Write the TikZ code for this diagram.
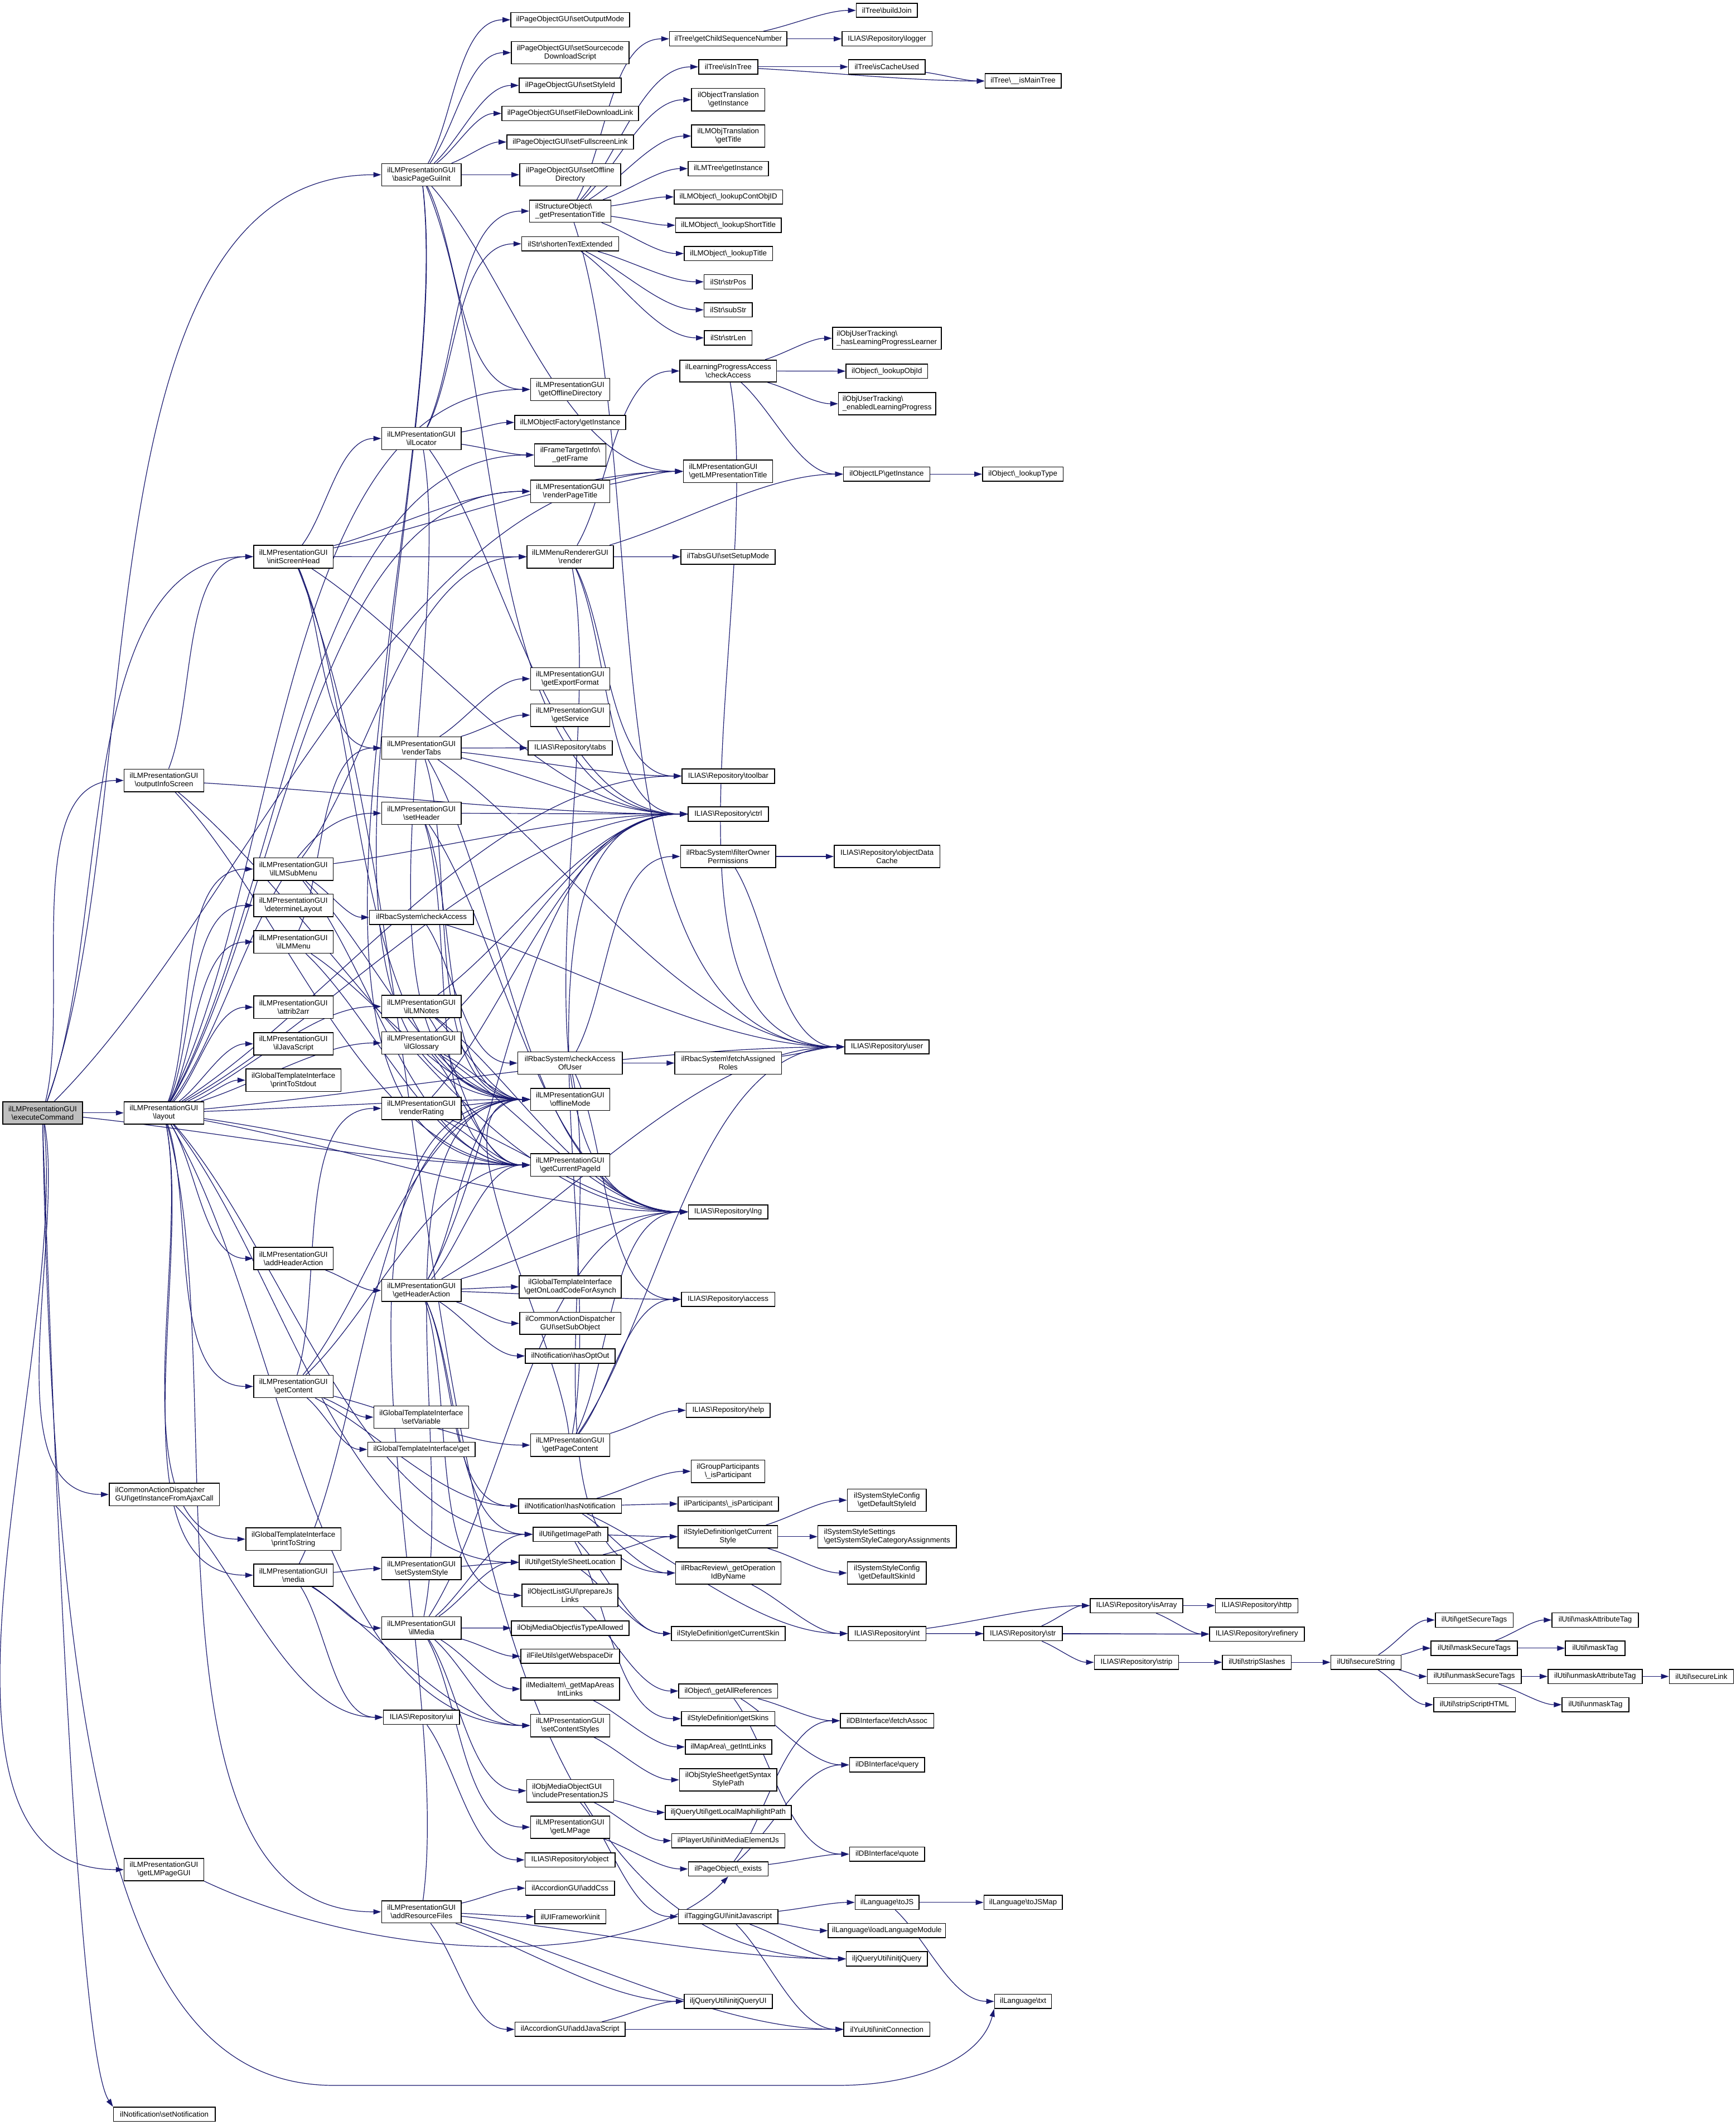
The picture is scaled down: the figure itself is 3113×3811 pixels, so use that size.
\documentclass[tikz,border=0pt]{standalone}
\usepackage{fontspec}
\setmainfont{Liberation Sans}
\usetikzlibrary{arrows.meta,calc}
\definecolor{edgec}{HTML}{191970}
\newcommand\bs{\textbackslash}
\pgfdeclarelayer{back}
\pgfdeclarelayer{bg}
\pgfsetlayers{back,bg,main}
\tikzset{
  box/.style={draw=black,fill=white,line width=0.4pt,inner sep=0pt,align=center,
    font=\fontsize{3.325pt}{3.75pt}\selectfont},
  e/.style={draw=edgec,line width=0.3pt,-{Triangle[length=3.5pt,width=2.3pt]},looseness=0.8}
}
\newcommand\nb[7][]{%
  \pgfmathsetmacro\nbX{(#3+#5)/2}\pgfmathsetmacro\nbY{(#4+#6)/2}%
  \pgfmathsetmacro\nbW{(#5-#3)*0.25}\pgfmathsetmacro\nbH{(#6-#4)*0.25}%
  \node[box,#1,minimum width=\nbW pt,minimum height=\nbH pt] (#2) at (\nbX,\nbY) {#7};}
\newcommand\ed[2]{\draw[e] let \p1=($(#2.west)-(#1.center)$), \n1={atan2(\y1,\x1)} in (#1) to[out=\n1,in=180] (#2);}
\newcommand\eds[2]{\foreach \tg in {#2}{\ed{#1}{\tg}}}
\begin{document}
\begin{tikzpicture}[x=0.25pt,y=-0.25pt]
\begin{pgfonlayer}{back}
\fill[white] (0,0) rectangle (3113,3811);
\end{pgfonlayer}
\useasboundingbox (0,0) rectangle (3113,3811);
% column 0-1
\nb[fill=gray!50]{E}{5.1}{1975.7}{148}{2016}{ilLMPresentationGUI\\\bs executeCommand}
\nb{oIS}{222.6}{1379.3}{365.4}{1420.1}{ilLMPresentationGUI\\\bs outputInfoScreen}
\nb{lay}{222.6}{1975.7}{365.4}{2016}{ilLMPresentationGUI\\\bs layout}
\nb[align=left]{aj}{195.8}{2660}{393.5}{2700.3}{ilCommonActionDispatcher\\GUI\bs getInstanceFromAjaxCall}
\nb{glpg}{222.6}{3333}{365.4}{3372.9}{ilLMPresentationGUI\\\bs getLMPageGUI}
\nb{sn}{203.4}{3779}{385.8}{3804.6}{ilNotification\bs setNotification}
% column 2
\nb{ish}{454.7}{977.9}{597.6}{1018.7}{ilLMPresentationGUI\\\bs initScreenHead}
\nb{sub}{454.7}{1538.4}{597.6}{1578.7}{ilLMPresentationGUI\\\bs ilLMSubMenu}
\nb{dl}{454.7}{1603.6}{597.6}{1643.9}{ilLMPresentationGUI\\\bs determineLayout}
\nb{menu}{454.7}{1669.2}{597.6}{1709.5}{ilLMPresentationGUI\\\bs ilLMMenu}
\nb{a2a}{454.7}{1786.1}{597.6}{1826.4}{ilLMPresentationGUI\\\bs attrib2arr}
\nb{js}{454.7}{1851.8}{597.6}{1892.1}{ilLMPresentationGUI\\\bs ilJavaScript}
\nb{pso}{440.7}{1917}{611.6}{1957.3}{ilGlobalTemplateInterface\\\bs printToStdout}
\nb{aha}{454.7}{2236.8}{597.6}{2277.1}{ilLMPresentationGUI\\\bs addHeaderAction}
\nb{gc}{454.7}{2466.5}{597.6}{2506.3}{ilLMPresentationGUI\\\bs getContent}
\nb{pts}{440.7}{2740.1}{611.6}{2780.4}{ilGlobalTemplateInterface\\\bs printToString}
\nb{med}{454.7}{2804.8}{597.6}{2845.1}{ilLMPresentationGUI\\\bs media}
% column 3
\nb{bpg}{684.3}{293.5}{827.2}{333.3}{ilLMPresentationGUI\\\bs basicPageGuiInit}
\nb{loc}{684.3}{766.5}{827.2}{806.3}{ilLMPresentationGUI\\\bs ilLocator}
\nb{rt}{684.3}{1321.6}{827.2}{1361.4}{ilLMPresentationGUI\\\bs renderTabs}
\nb{sh}{684.3}{1438.5}{827.2}{1478.3}{ilLMPresentationGUI\\\bs setHeader}
\nb{rca}{662.6}{1632.4}{848.9}{1657.8}{ilRbacSystem\bs checkAccess}
\nb{notes}{684.3}{1785.1}{827.2}{1825}{ilLMPresentationGUI\\\bs ilLMNotes}
\nb{glo}{684.3}{1850.3}{827.2}{1890.6}{ilLMPresentationGUI\\\bs ilGlossary}
\nb{rr}{684.3}{1967.7}{827.2}{2008}{ilLMPresentationGUI\\\bs renderRating}
\nb{gha}{684.3}{2294.4}{827.2}{2334.2}{ilLMPresentationGUI\\\bs getHeaderAction}
\nb{sv}{670.3}{2521.3}{840.6}{2561.6}{ilGlobalTemplateInterface\\\bs setVariable}
\nb{tget}{659.4}{2586.4}{852}{2612.3}{ilGlobalTemplateInterface\bs get}
\nb{sss}{684.3}{2792.9}{827.2}{2833.2}{ilLMPresentationGUI\\\bs setSystemStyle}
\nb{ilm}{684.3}{2899.3}{827.2}{2940.1}{ilLMPresentationGUI\\\bs ilMedia}
\nb{ui}{687.5}{3067}{824}{3092.6}{ILIAS\bs Repository\bs ui}
\nb{arf}{684.3}{3408.8}{827.2}{3448.6}{ilLMPresentationGUI\\\bs addResourceFiles}
% column 4
\nb{som}{916}{22.4}{1129}{48.7}{ilPageObjectGUI\bs setOutputMode}
\nb{sdl}{917}{74.6}{1128}{114.4}{ilPageObjectGUI\bs setSourcecode\\DownloadScript}
\nb{ssi}{931}{140.3}{1114}{166.1}{ilPageObjectGUI\bs setStyleId}
\nb{sfd}{900}{190.5}{1145}{216.4}{ilPageObjectGUI\bs setFileDownloadLink}
\nb{sfl}{909}{241.8}{1136}{267.6}{ilPageObjectGUI\bs setFullscreenLink}
\nb{sod}{932}{293.5}{1113}{333.3}{ilPageObjectGUI\bs setOffline\\Directory}
\nb[align=left]{gpt}{949.6}{358.7}{1095.4}{398.5}{ilStructureObject\bs\\\_getPresentationTitle}
\nb{ste}{935.6}{424.3}{1109.4}{450.2}{ilStr\bs shortenTextExtended}
\nb{god}{951.3}{678.5}{1093.5}{718.3}{ilLMPresentationGUI\\\bs getOfflineDirectory}
\nb{lof}{922.8}{744.7}{1122}{770.6}{ilLMObjectFactory\bs getInstance}
\nb{ftf}{958.3}{795.8}{1086.5}{836.1}{ilFrameTargetInfo\bs\\\_getFrame}
\nb{rpt}{951.3}{861}{1093.5}{901.3}{ilLMPresentationGUI\\\bs renderPageTitle}
\nb{mrr}{945.2}{978.4}{1099.9}{1018.7}{ilLMMenuRendererGUI\\\bs render}
\nb{gef}{951.3}{1197.3}{1093.5}{1237.5}{ilLMPresentationGUI\\\bs getExportFormat}
\nb{gs}{951.3}{1262.4}{1093.5}{1302.7}{ilLMPresentationGUI\\\bs getService}
\nb{tabs}{947}{1328.6}{1098}{1354}{ILIAS\bs Repository\bs tabs}
\nb{caou}{928.6}{1886.6}{1115.8}{1926.4}{ilRbacSystem\bs checkAccess\\OfUser}
\nb{om}{951.3}{1951.8}{1093.5}{1991.6}{ilLMPresentationGUI\\\bs offlineMode}
\nb{gcp}{951.3}{2069.2}{1093.5}{2109.5}{ilLMPresentationGUI\\\bs getCurrentPageId}
\nb{gol}{931.1}{2288}{1113.9}{2327.8}{ilGlobalTemplateInterface\\\bs getOnLoadCodeForAsynch}
\nb{sso}{931.8}{2353.6}{1113.3}{2392.9}{ilCommonActionDispatcher\\GUI\bs setSubObject}
\nb{hoo}{942}{2418.8}{1103}{2444.7}{ilNotification\bs hasOptOut}
\nb{gpc}{951.3}{2571.5}{1093.5}{2611.8}{ilLMPresentationGUI\\\bs getPageContent}
\nb{hn}{929.8}{2687.9}{1114.5}{2713.8}{ilNotification\bs hasNotification}
\nb{gip}{955.7}{2738.7}{1089.7}{2764.5}{ilUtil\bs getImagePath}
\nb{gssl}{931.1}{2788.9}{1113.9}{2814.8}{ilUtil\bs getStyleSheetLocation}
\nb{pjl}{936.2}{2841.1}{1108.2}{2881.4}{ilObjectListGUI\bs prepareJs\\Links}
\nb{ita}{917.1}{2906.8}{1127.9}{2932.7}{ilObjMediaObject\bs isTypeAllowed}
\nb{gwd}{933.7}{2957.5}{1110.7}{2982.9}{ilFileUtils\bs getWebspaceDir}
\nb{gma}{933.7}{3008.8}{1110.7}{3049}{ilMediaItem\bs\_getMapAreas\\IntLinks}
\nb{scs}{951.3}{3074.4}{1093.5}{3114.7}{ilLMPresentationGUI\\\bs setContentStyles}
\nb[align=left]{ipj}{944.5}{3191.4}{1100.5}{3231.8}{ilObjMediaObjectGUI\\\bs includePresentationJS}
\nb{glp}{951.3}{3256.8}{1093.5}{3296.7}{ilLMPresentationGUI\\\bs getLMPage}
\nb{obj}{941.3}{3322.7}{1103}{3348.3}{ILIAS\bs Repository\bs object}
\nb{acss}{942.6}{3373.4}{1101.8}{3399}{ilAccordionGUI\bs addCss}
\nb{uifw}{958.9}{3424.5}{1086.5}{3450.1}{ilUIFramework\bs init}
\nb{ajs}{923.5}{3626.6}{1120.9}{3652.2}{ilAccordionGUI\bs addJavaScript}
% column 5
\nb{tgcs}{1200.6}{56.7}{1411.1}{82.6}{ilTree\bs getChildSequenceNumber}
\nb{tiit}{1252.9}{107}{1358.8}{132.8}{ilTree\bs isInTree}
\nb{otgi}{1240.2}{158.7}{1371.6}{199}{ilObjectTranslation\\\bs getInstance}
\nb{lmott}{1240.2}{223.9}{1371.6}{264.1}{ilLMObjTranslation\\\bs getTitle}
\nb{lmtgi}{1233.8}{289.5}{1377.9}{315.4}{ilLMTree\bs getInstance}
\nb{lcoid}{1208.9}{340.3}{1403.4}{366.1}{ilLMObject\bs\_lookupContObjID}
\nb{lst}{1211.5}{391}{1400.9}{416.9}{ilLMObject\bs\_lookupShortTitle}
\nb{lt}{1226.8}{441.7}{1385.6}{467.6}{ilLMObject\bs\_lookupTitle}
\nb{spos}{1262.5}{492.5}{1349.2}{518.3}{ilStr\bs strPos}
\nb{ssub}{1262.5}{542.7}{1349.2}{568.6}{ilStr\bs subStr}
\nb{slen}{1263}{593}{1348.6}{618.8}{ilStr\bs strLen}
\nb{lpa}{1219.1}{645.7}{1392.6}{685}{ilLearningProgressAccess\\\bs checkAccess}
\nb[align=left]{glmpt}{1225.5}{825.2}{1385.6}{865.5}{ilLMPresentationGUI\\\bs getLMPresentationTitle}
\nb{tssm}{1221}{985.3}{1390}{1011.7}{ilTabsGUI\bs setSetupMode}
\nb{tb}{1223}{1378.8}{1388.8}{1404.7}{ILIAS\bs Repository\bs toolbar}
\nb{ctrl}{1233.8}{1447}{1377.9}{1472.9}{ILIAS\bs Repository\bs ctrl}
\nb{fop}{1220.4}{1516}{1390.7}{1556}{ilRbacSystem\bs filterOwner\\Permissions}
\nb{far}{1210.2}{1886.6}{1401.5}{1926.4}{ilRbacSystem\bs fetchAssigned\\Roles}
\nb{lng}{1234.4}{2160.7}{1376.7}{2186.1}{ILIAS\bs Repository\bs lng}
\nb{acc}{1221.7}{2317.3}{1389.4}{2343.2}{ILIAS\bs Repository\bs access}
\nb{help}{1230.6}{2516.3}{1381.1}{2542.2}{ILIAS\bs Repository\bs help}
\nb{gpip}{1239.5}{2618.3}{1371.6}{2659.1}{ilGroupParticipants\\\bs\_isParticipant}
\nb{pip}{1215.9}{2684.4}{1395.8}{2709.8}{ilParticipants\bs\_isParticipant}
\nb{sdcs}{1215.9}{2735.7}{1394.5}{2776}{ilStyleDefinition\bs getCurrent\\Style}
\nb{rrop}{1211.5}{2800.8}{1400.3}{2841.1}{ilRbacReview\bs\_getOperation\\IdByName}
\nb{sdsk}{1203.8}{2916.7}{1407.9}{2942.6}{ilStyleDefinition\bs getCurrentSkin}
\nb{oar}{1217.2}{3019.7}{1394.5}{3045.6}{ilObject\bs\_getAllReferences}
\nb{sdgs}{1221.7}{3069.5}{1389.4}{3095.1}{ilStyleDefinition\bs getSkins}
\nb{mail}{1228.7}{3120.1}{1383.7}{3145.7}{ilMapArea\bs\_getIntLinks}
\nb{ossp}{1218.5}{3171.8}{1393.2}{3212.1}{ilObjStyleSheet\bs getSyntax\\StylePath}
\nb{jqlm}{1193}{3237.7}{1418.8}{3263.2}{iljQueryUtil\bs getLocalMaphilightPath}
\nb{pume}{1204.5}{3288.3}{1407.3}{3313.9}{ilPlayerUtil\bs initMediaElementJs}
\nb{poe}{1234.4}{3339}{1377.3}{3364.5}{ilPageObject\bs\_exists}
\nb{tgij}{1216.6}{3424.5}{1395.2}{3450.1}{ilTaggingGUI\bs initJavascript}
\nb{jqui}{1226.8}{3576.5}{1385}{3602}{iljQueryUtil\bs initjQueryUI}
% column 6
\nb{tbj}{1535.5}{6}{1645.2}{31.3}{ilTree\bs buildJoin}
\nb{logger}{1509.9}{56.7}{1671.3}{82.6}{ILIAS\bs Repository\bs logger}
\nb{ticu}{1521.4}{107}{1659.2}{132.8}{ilTree\bs isCacheUsed}
\nb[align=left]{ouhl}{1492.7}{587}{1687.9}{626.3}{ilObjUserTracking\bs\\\_hasLearningProgressLearner}
\nb{olo}{1517}{652.7}{1663.6}{678.5}{ilObject\bs\_lookupObjId}
\nb[align=left]{oel}{1503.6}{703.9}{1677.7}{744.2}{ilObjUserTracking\bs\\\_enabledLearningProgress}
\nb{olpg}{1512.5}{837.6}{1667.5}{863}{ilObjectLP\bs getInstance}
\nb{odc}{1495.9}{1516}{1685.3}{1556}{ILIAS\bs Repository\bs objectData\\Cache}
\nb{user}{1515}{1864.7}{1666.2}{1890.1}{ILIAS\bs Repository\bs user}
\nb{ssdsi}{1519.5}{2670.5}{1661.1}{2710.3}{ilSystemStyleConfig\\\bs getDefaultStyleId}
\nb[align=left]{ssca}{1466.6}{2735.7}{1714.7}{2776}{ilSystemStyleSettings\\\bs getSystemStyleCategoryAssignments}
\nb{ssdsk}{1519.5}{2800.8}{1661.1}{2841.1}{ilSystemStyleConfig\\\bs getDefaultSkinId}
\nb{int}{1520.8}{2916.7}{1660.5}{2942.6}{ILIAS\bs Repository\bs int}
\nb{fa}{1506.8}{3072.9}{1674.5}{3099}{ilDBInterface\bs fetchAssoc}
\nb{q}{1523.3}{3152.1}{1657.9}{3178.2}{ilDBInterface\bs query}
\nb{qu}{1523.3}{3312.4}{1657.9}{3338}{ilDBInterface\bs quote}
\nb{ljs}{1533.5}{3399}{1647.7}{3424.5}{ilLanguage\bs toJS}
\nb{llm}{1485.1}{3449.6}{1695.5}{3475.2}{ilLanguage\bs loadLanguageModule}
\nb{jq}{1517.6}{3500.2}{1663}{3525.8}{iljQueryUtil\bs initjQuery}
\nb{yui}{1513.1}{3626.6}{1667.5}{3652.2}{ilYuiUtil\bs initConnection}
% column 7
\nb{timt}{1766.3}{132.3}{1902.8}{158.2}{ilTree\bs\_\_isMainTree}
\nb{lt2}{1761.8}{837.6}{1906.6}{863}{ilObject\bs\_lookupType}
\nb{str}{1763.8}{2916.7}{1904.7}{2942.6}{ILIAS\bs Repository\bs str}
\nb{ljsm}{1764.4}{3399}{1904.7}{3424.5}{ilLanguage\bs toJSMap}
\nb{txt}{1783.5}{3576.5}{1885.6}{3602}{ilLanguage\bs txt}
% right cluster
\nb{isa}{1955}{2866.7}{2121}{2892.3}{ILIAS\bs Repository\bs isArray}
\nb{http}{2179.4}{2866.7}{2327.5}{2892.3}{ILIAS\bs Repository\bs http}
\nb{ref}{2168.9}{2917.7}{2338.7}{2943.3}{ILIAS\bs Repository\bs refinery}
\nb{strip}{1962.4}{2968.3}{2113.6}{2994}{ILIAS\bs Repository\bs strip}
\nb{ss}{2192.1}{2968.3}{2315.6}{2994}{ilUtil\bs stripSlashes}
\nb{sec}{2386.6}{2968.3}{2512.3}{2994}{ilUtil\bs secureString}
\nb{gst}{2573.7}{2892.3}{2713.5}{2918.3}{ilUtil\bs getSecureTags}
\nb{mst}{2566.2}{2943}{2721}{2968.7}{ilUtil\bs maskSecureTags}
\nb{ust}{2559.4}{2993.7}{2727.8}{3019.3}{ilUtil\bs unmaskSecureTags}
\nb{ssh}{2570.7}{3044.3}{2717.3}{3070}{ilUtil\bs stripScriptHTML}
\nb{mat}{2783.1}{2892.3}{2938}{2918.3}{ilUtil\bs maskAttributeTag}
\nb{mt}{2807.1}{2943}{2914}{2968.7}{ilUtil\bs maskTag}
\nb{uat}{2775.7}{2993.7}{2944.7}{3019.3}{ilUtil\bs unmaskAttributeTag}
\nb{sl}{2993.3}{2993.7}{3108.6}{3019.3}{ilUtil\bs secureLink}
\nb{ut}{2801.1}{3044.3}{2920.8}{3070}{ilUtil\bs unmaskTag}
% edges
\begin{pgfonlayer}{bg}
\eds{E}{bpg,ish,oIS,lay,aj,glpg,gcp,glmpt}
\draw[e] (E.south) .. controls (110,3000) and (150,3700) .. (sn.north west);
\draw[e] (E.south) .. controls (100,3300) and (250,3740) .. (600,3740) -- (1500,3740) .. controls (1650,3740) and (1760,3690) .. (txt.south west);
\eds{bpg}{som,sdl,ssi,sfd,sfl,sod,god,glmpt,om,gcp,ctrl}
\eds{oIS}{ish,ctrl,lng,gcp}
\eds{ish}{loc,rt,rpt,glmpt,ctrl,om,jq,mrr}
\eds{loc}{gpt,ste,lof,ftf,om,ctrl}
\eds{gpt}{tgcs,tiit,otgi,lmott,lmtgi,lcoid,lst,lt,user}
\eds{ste}{spos,ssub,slen}
\eds{tgcs}{tbj,logger}
\eds{tiit}{ticu,timt}
\eds{ticu}{timt}
\eds{lpa}{ouhl,olo,oel,olpg,user}
\eds{olpg}{lt2}
\eds{rpt}{glmpt}
\eds{mrr}{lpa,olpg,tssm,tb,ctrl,lng}
\eds{rt}{gef,gs,tabs,tb,ctrl,user,lng,om}
\eds{sh}{ctrl,lng,om,gcp}
\eds{lay}{sub,dl,menu,a2a,js,pso,aha,gc,pts,med,notes,glo,sh,god,ftf,rpt,om,gcp,lng,ctrl,tb,arf,user,gssl,gip,scs}
\eds{sub}{rca,mrr,om,gcp,ctrl}
\eds{menu}{rt,om,gcp}
\eds{rca}{caou,user}
\eds{caou}{fop,far,acc,rrop}
\eds{fop}{odc,user}
\eds{far}{user}
\eds{notes}{om,gcp,ctrl,lng}
\eds{glo}{om,gcp,ctrl,lng}
\eds{rr}{om,gcp,ctrl,lng}
\eds{aha}{gha}
\eds{gha}{gol,sso,hoo,hn,gip,om,gcp,ctrl,lng,user,acc,pjl}
\eds{gc}{sv,tget,gpc,rr,om,gcp,hn}
\eds{gpc}{help,ctrl,lng,acc,user,om}
\eds{hn}{gpip,pip,rrop,int}
\eds{med}{sss,ilm,om,scs,ui}
\eds{sss}{gssl}
\eds{ilm}{ita,gwd,gma,scs,ipj,glp,gip,gssl,om,lng}
\eds{gip}{sdcs,sdsk,sdgs}
\eds{gssl}{sdcs,sdsk}
\eds{pjl}{oar}
\eds{gma}{mail}
\eds{scs}{ossp}
\eds{ipj}{jqlm,pume,tgij}
\eds{glp}{poe}
\draw[e] (glpg.south east) .. controls (700,3530) and (1150,3530) .. (poe.south);
\eds{ui}{obj}
\eds{aj}{ui}
\eds{arf}{acss,uifw,ajs,jq,jqui,yui,om}
\eds{ajs}{jqui,yui}
\eds{tgij}{ljs,llm,jq,yui}
\eds{ljs}{ljsm,txt}
\eds{poe}{fa,q,qu}
\eds{oar}{fa,q,qu}
\eds{sdcs}{ssdsi,ssca,ssdsk}
\eds{rrop}{int}
\eds{int}{str,isa,ref}
\eds{str}{isa,ref,strip}
\eds{isa}{http,ref}
\eds{strip}{ss}
\eds{ss}{sec}
\eds{sec}{gst,mst,ust,ssh}
\eds{mst}{mat,mt}
\eds{ust}{uat,ut}
\eds{uat}{sl}
\end{pgfonlayer}
\end{tikzpicture}
\end{document}
